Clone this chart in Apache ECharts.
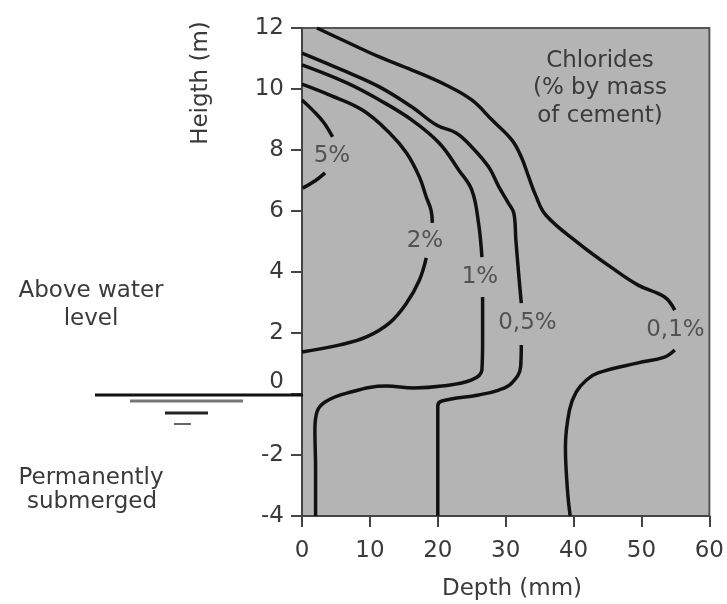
<!DOCTYPE html>
<html>
<head>
<meta charset="utf-8">
<script src="https://cdn.jsdelivr.net/npm/echarts@6/dist/echarts.min.js"></script>
<style>html,body{margin:0;padding:0;background:#fff}#c{width:727px;height:604px}</style>
</head>
<body>
<div id="c"></div>
<script>
// Axis ticks
const xTicks = [0, 10, 20, 30, 40, 50, 60];
const yTicks = [-4, -2, 0, 2, 4, 6, 8, 10, 12];

// Contours [depth (mm), height (m)] ; split where labels interrupt
const c5Upper = [[0,9.64],[1.6,9.3],[3.2,8.9],[4.5,8.43]];
const c5Lower = [[3.4,7.25],[2.0,7.0],[0.1,6.75]];

const c2Upper = [[0,10.16],[4.1,9.80],[8.9,9.31],[12.9,8.56],[15.4,7.90],[17.3,7.11],[18.3,6.46],[19.0,6.03],[19.2,5.61]];
const c2Lower = [[18.3,4.46],[17.3,3.74],[15.4,2.98],[12.9,2.33],[9.5,1.87],[5.6,1.61],[0,1.38]];

const c1Upper = [[0,10.79],[6.6,10.20],[11.4,9.64],[16.2,8.98],[20.2,8.23],[23.1,7.34],[25.0,6.69],[26.0,5.61],[26.5,4.49]];
const c1Lower = [[26.6,3.18],[26.6,1.77],[26.5,0.79],[25.0,0.46],[20.6,0.26],[16.5,0.20],[12.4,0.26],[6.6,0.03],[3.4,-0.26],[2.2,-0.59],[1.9,-1.18],[2.0,-2.5],[2.0,-4]];

const c05Upper = [[0,11.18],[6.6,10.56],[11.4,10.07],[16.2,9.41],[19.8,8.82],[22.7,8.56],[25.0,8.10],[27.5,7.44],[29.0,6.79],[30.4,6.26],[31.2,5.93],[31.5,5.05],[31.9,3.97],[32.3,2.98]];
const c05Lower = [[32.3,1.61],[32.2,0.89],[30.9,0.36],[29.0,0.13],[26.0,-0.03],[20.6,-0.23],[20.0,-0.39],[20.0,-2.0],[20.0,-4]];

const c01Upper = [[2.2,12.0],[6.6,11.54],[11.4,11.05],[16.2,10.62],[21.2,10.13],[25.0,9.64],[28.0,8.98],[30.9,8.33],[32.3,7.77],[33.4,7.11],[34.4,6.52],[35.9,5.87],[40.7,4.95],[45.5,4.16],[49.5,3.57],[53.4,3.18],[54.9,2.75]];
const c01Lower = [[54.9,1.44],[53.4,1.21],[49.5,1.02],[43.6,0.69],[41.9,0.46],[40.4,0.07],[39.4,-0.52],[38.8,-1.74],[39.1,-3.15],[39.5,-4]];

// Contour labels
const labelNames = ['5%', '2%', '1%', '0,5%', '0,1%'];
const labelPos = [[4.4,7.8],[18.1,5.02],[26.2,3.84],[33.2,2.33],[55.0,2.1]];

const chart = echarts.init(document.getElementById('c'), null, {renderer:'canvas'});
const FONT = '"DejaVu Sans", sans-serif';
const TXT = '#3a3a3a';
const FS = 23;

const curves = [c5Upper,c5Lower,c2Upper,c2Lower,c1Upper,c1Lower,c05Upper,c05Lower,c01Upper,c01Lower];
const series = curves.map(d => ({
  type:'line', data:d, smooth:0.4, symbol:'none', clip:true,
  lineStyle:{color:'#111', width:3.5}, z:3, silent:true
}));
series.push({
  type:'scatter', symbolSize:0, silent:true, z:4,
  data: labelNames.map((n,i)=>({name:n, value:labelPos[i]})),
  label:{show:true, position:'inside', formatter:p=>p.name, color:TXT, fontSize:FS, fontFamily:FONT}
});

function txt(s, x, y, rot){
  return {type:'text', x:x, y:y, rotation:rot||0,
    style:{text:s, fill:TXT, font:FS+'px '+FONT, textAlign:'center', textVerticalAlign:'middle'}};
}

chart.setOption({
  animation:false,
  grid:{left:302, top:28, right:15, bottom:88, show:true, backgroundColor:'#b4b4b4', borderColor:'#555', borderWidth:2},
  xAxis:{
    type:'value', min:0, max:60, interval:10,
    axisLine:{show:true, onZero:false, lineStyle:{color:'#444', width:2}},
    axisTick:{show:true, length:11, lineStyle:{color:'#444', width:2}},
    axisLabel:{color:TXT, fontSize:FS, fontFamily:FONT, margin:24, formatter:v=>xTicks.includes(v)?String(v):''},
    splitLine:{show:false}
  },
  yAxis:{
    type:'value', min:-4, max:12, interval:2,
    axisLine:{show:true, onZero:false, lineStyle:{color:'#444', width:2}},
    axisTick:{show:true, length:11, lineStyle:{color:'#444', width:2}},
    axisLabel:{color:TXT, fontSize:FS, fontFamily:FONT, margin:18,
      formatter:v=>yTicks.includes(v)?(v===0?'{z|0}':String(v)):'',
      rich:{z:{fontSize:FS, fontFamily:FONT, color:TXT, padding:[0,0,24,0]}}},
    splitLine:{show:false}
  },
  series:series,
  graphic:[
    txt('Heigth (m)', 201, 83, Math.PI/2),
    txt('Depth (mm)', 512, 589),
    txt('Chlorides', 600, 61),
    txt('(% by mass', 600, 88),
    txt('of cement)', 600, 116),
    txt('Above water', 91, 291),
    txt('level', 91, 319),
    txt('Permanently', 91, 478),
    txt('submerged', 92, 502),
    {type:'line', shape:{x1:95, y1:395, x2:303, y2:395}, style:{stroke:'#111', lineWidth:3}, z:10},
    {type:'line', shape:{x1:130, y1:401, x2:243, y2:401}, style:{stroke:'#777', lineWidth:3}, z:10},
    {type:'line', shape:{x1:165, y1:413, x2:208, y2:413}, style:{stroke:'#222', lineWidth:3}, z:10},
    {type:'line', shape:{x1:174, y1:424, x2:191, y2:424}, style:{stroke:'#666', lineWidth:2}, z:10}
  ]
});
</script>
</body>
</html>
